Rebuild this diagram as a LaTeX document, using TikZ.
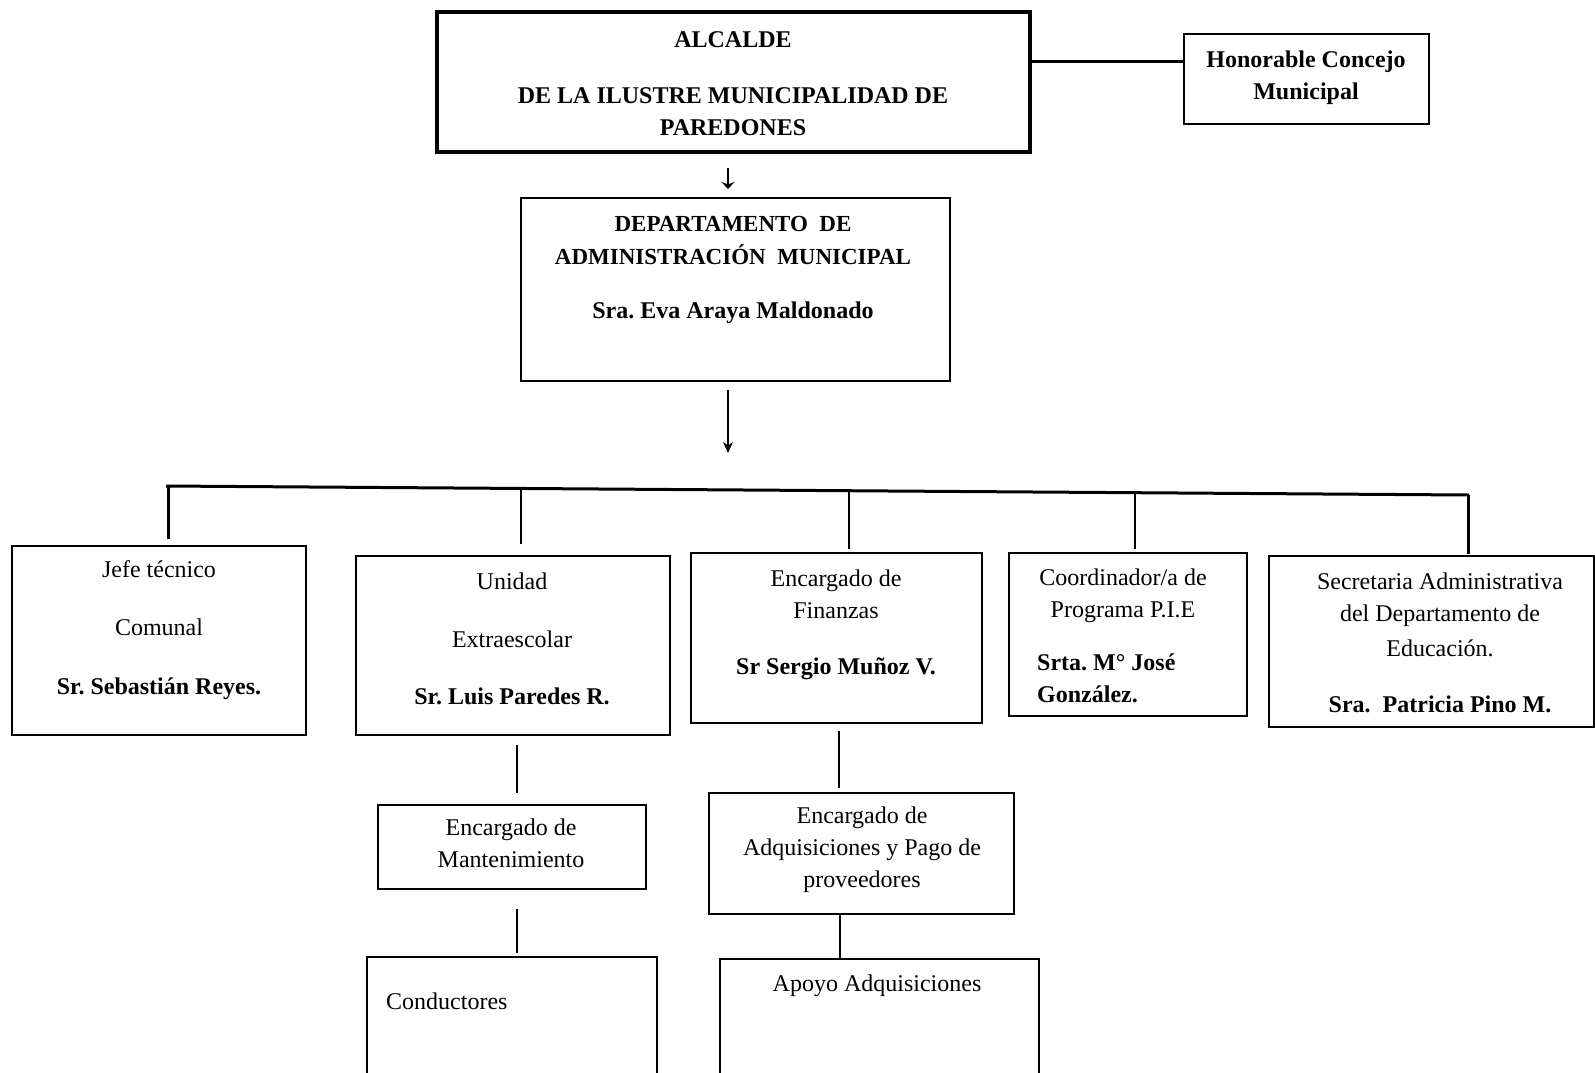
\documentclass[tikz,border=0pt]{standalone}
\usepackage{fontspec}
\setmainfont{Liberation Serif}
\usetikzlibrary{arrows.meta}
\frenchspacing
\begin{document}
\begin{tikzpicture}[x=1pt,y=-1pt,
  box/.style={draw, line width=1.4pt, anchor=north west, inner sep=0pt, outer sep=0pt},
  thickbox/.style={box, line width=3.2pt},
  txt/.style={anchor=base, inner sep=0pt, align=center, font=\fontsize{24}{32}\selectfont\frenchspacing},
  btxt/.style={txt, font=\fontsize{24}{32}\selectfont\bfseries\frenchspacing},
  ln/.style={line width=1.3pt},
  thickln/.style={line width=3pt},
  arr/.style={line width=1.3pt, -{Stealth[length=11pt,width=10pt]}}]
\useasboundingbox (0,0) rectangle (1595,1072);
% boxes
\node[thickbox, minimum width=593pt, minimum height=140pt] (alc) at (437,12) {};
\node[box, minimum width=245pt, minimum height=90pt] (hon) at (1184,34) {};
\node[box, minimum width=429pt, minimum height=183pt] (dep) at (521,198) {};
\node[box, minimum width=294pt, minimum height=189pt] (jefe) at (12,546) {};
\node[box, minimum width=314pt, minimum height=179pt] (uni) at (356,556) {};
\node[box, minimum width=291pt, minimum height=170pt] (fin) at (691,553) {};
\node[box, minimum width=238pt, minimum height=163pt] (coo) at (1009,553) {};
\node[box, minimum width=325pt, minimum height=171pt] (sec) at (1269,556) {};
\node[box, minimum width=268pt, minimum height=84pt] (man) at (378,805) {};
\node[box, minimum width=305pt, minimum height=121pt] (adq) at (709,793) {};
\node[box, minimum width=290pt, minimum height=125pt] (con) at (367,957) {};
\node[box, minimum width=319pt, minimum height=123pt] (apo) at (720,959) {};
% texts (anchor = baseline of the last line)
\node[btxt] (talc1) at (733,47) {ALCALDE};
\node[btxt] (talc2) at (733,135) {DE LA ILUSTRE MUNICIPALIDAD DE\\PAREDONES};
\node[btxt] (thon) at (1306,99) {Honorable Concejo\\Municipal};
\node[btxt, font=\fontsize{23}{33}\selectfont\bfseries] (tdep1) at (733,264) {DEPARTAMENTO\ \ DE\\ADMINISTRACIÓN\ \ MUNICIPAL};
\node[btxt] (tdep2) at (733,318) {Sra. Eva Araya Maldonado};
\node[txt] (tjefe) at (159,635) {Jefe técnico\\[26pt]Comunal};
\node[btxt] (tjefe2) at (159,694) {Sr. Sebastián Reyes.};
\node[txt] (tuni) at (512,647) {Unidad\\[26pt]Extraescolar};
\node[btxt] (tuni2) at (512,704) {Sr. Luis Paredes R.};
\node[txt] (tfin) at (836,618) {Encargado de\\Finanzas};
\node[btxt] (tfin2) at (836,674) {Sr Sergio Muñoz V.};
\node[txt] (tcoo) at (1123,617) {Coordinador/a de\\Programa P.I.E};
\node[btxt, anchor=base west, align=left] (tcoo2) at (1037,702) {Srta. M° José\\González.};
\node[txt] (tsec) at (1440,656) {Secretaria Administrativa\\del Departamento de\\[3pt]Educación.};
\node[btxt] (tsec2) at (1440,712) {Sra.\ \ Patricia Pino M.};
\node[txt] (tman) at (511,867) {Encargado de\\Mantenimiento};
\node[txt] (tadq) at (862,887) {Encargado de\\Adquisiciones y Pago de\\proveedores};
\node[txt, anchor=base west] (tcon) at (386,1009) {Conductores};
\node[txt] (tapo) at (877,991) {Apoyo Adquisiciones};
% connectors
\draw[thickln] (alc.east |- 0,61) -- (hon.west |- 0,61);
\coordinate (a1) at (728,168);
\draw[line width=1.1pt, -{Stealth[length=7pt,width=13pt]}, shorten >=9pt] (a1) -- (a1 |- dep.north);
\coordinate (a2) at (728,390);
\coordinate (a2e) at (728,453);
\draw[arr] (a2) -- (a2e);
\coordinate (busL) at (166,486);
\coordinate (busR) at (1469,495);
\draw[thickln] (busL) -- (busR);
\coordinate (d1) at (168,486);
\coordinate (d2) at (521,488.5);
\coordinate (d3) at (849,490.7);
\coordinate (d4) at (1135,492.7);
\coordinate (d5) at (1468,495);
\draw[thickln, shorten >=7pt] (d1) -- (d1 |- jefe.north);
\draw[ln, shorten >=12pt] (d2) -- (d2 |- uni.north);
\draw[ln, shorten >=4pt] (d3) -- (d3 |- fin.north);
\draw[ln, shorten >=4pt] (d4) -- (d4 |- coo.north);
\draw[thickln, shorten >=2pt] (d5) -- (d5 |- sec.north);
\coordinate (u1) at (517,745);
\draw[ln, shorten >=12pt] (u1) -- (u1 |- man.north);
\coordinate (m1) at (517,909);
\draw[ln, shorten >=4pt] (m1) -- (m1 |- con.north);
\coordinate (f1) at (839,731);
\draw[ln, shorten >=5pt] (f1) -- (f1 |- adq.north);
\coordinate (q1) at (840,914);
\draw[ln] (q1) -- (q1 |- apo.north);
\end{tikzpicture}
\end{document}
